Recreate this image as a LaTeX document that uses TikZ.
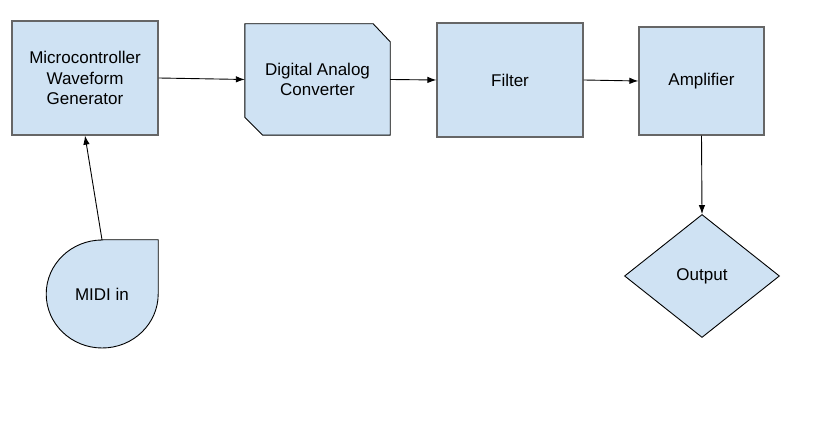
\documentclass[tikz,border=0pt]{standalone}
\usepackage{fontspec}
\setmainfont{Liberation Sans}
\usetikzlibrary{shapes.geometric,arrows.meta,backgrounds}
\definecolor{boxblue}{HTML}{CFE2F3}
\definecolor{edgegray}{HTML}{666666}

\begin{document}
\begin{tikzpicture}
[x=1pt,y=1pt,
box/.style={rectangle,draw=edgegray,line width=1.3pt,fill=boxblue,align=center,font=\fontsize{17}{20.5}\selectfont},
plain/.style={draw=none,fill=none,align=center,font=\fontsize{17}{20.5}\selectfont},
outline/.style={draw=black,fill=boxblue,line width=0.9pt},
conn/.style={-{Latex[length=9pt,width=6.5pt]},line width=0.9pt}
]
\useasboundingbox (0,0) rectangle (826,422);

\node[box,minimum width=146pt,minimum height=114pt] (micro) at (85,344){Microcontroller\\Waveform\\Generator};
\node[plain,rectangle,minimum width=145pt,minimum height=111pt] (dac) at (317.5,342.5){Digital Analog\\Converter};
\node[box,minimum width=146pt,minimum height=114pt] (filter) at (510,342){Filter};
\node[box,minimum width=125pt,minimum height=108pt] (amp) at (701.5,341){Amplifier};
\node[box,diamond,draw=black,line width=0.9pt,inner sep=0pt,minimum width=155pt,minimum height=123pt] (out) at (702,146){Output};
\node[plain,ellipse,inner sep=0pt,minimum width=112pt,minimum height=108pt] (midi) at (102,128){MIDI in};

% shapes drawn behind the text
\begin{scope}[on background layer]
\draw[outline] (dac.north west) -- ([xshift=-17pt]dac.north east) -- ([yshift=-18pt]dac.north east)
  -- (dac.south east) -- ([xshift=18pt]dac.south west) -- ([yshift=18pt]dac.south west) -- cycle;
\draw[outline] (midi.north) -- (midi.north -| midi.east) -- (midi.east)
  arc[start angle=0,end angle=-270,x radius=56pt,y radius=54pt] -- cycle;
\end{scope}

\draw[conn] (micro.east) -- (dac.west);
\draw[conn] (dac.east) -- (filter.west);
\draw[conn] (filter.east) -- (amp.west);
\draw[conn] (amp.south) -- (out.north);
\draw[conn] (midi.north) -- (micro.south);
\end{tikzpicture}
\end{document}
